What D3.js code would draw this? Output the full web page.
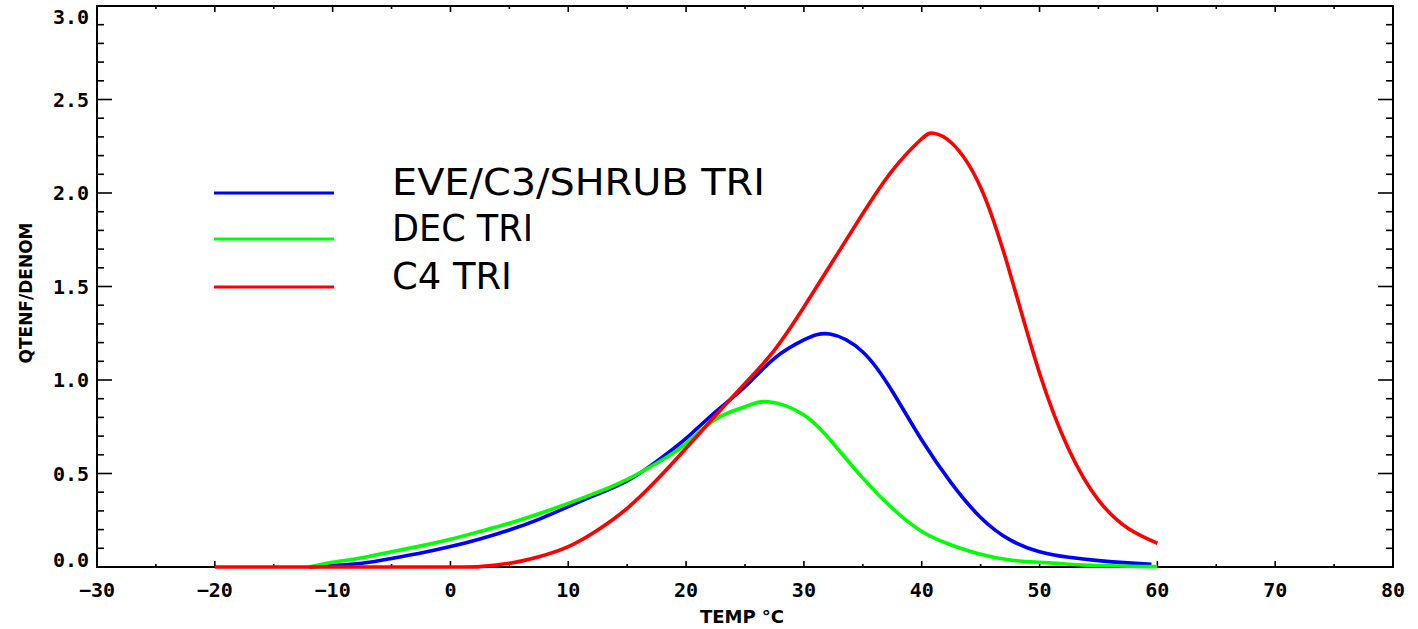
<!DOCTYPE html>
<html>
<head>
<meta charset="utf-8">
<script src="https://cdn.jsdelivr.net/npm/d3@7/dist/d3.min.js"></script>
<style>
  html, body { margin: 0; padding: 0; background: #fff; }
  svg { display: block; }
  .tick-label { font-family: "DejaVu Sans Mono", monospace; font-weight: bold; font-size: 20px; fill: #000; }
  .axis-title { font-family: "DejaVu Sans", sans-serif; font-weight: bold; fill: #000; }
  .legend-label { font-family: "DejaVu Sans", sans-serif; font-size: 37px; fill: #000; }
</style>
</head>
<body>
<svg id="chart" width="1418" height="629"></svg>
<script>
// Temperature response curves (QTENF/DENOM) for three tropical plant types
const tempEve = [-12, -10, -7.5, -5, -2.5, 0, 2.5, 5, 7.5, 10, 12.5, 15, 17.5, 20, 22.5, 25, 27.5, 30, 32.2, 35, 37.5, 40, 42.5, 45, 47.5, 50, 52.5, 55, 57.5, 59.5];
const valEve  = [0, 0.008, 0.02, 0.046, 0.075, 0.109, 0.15, 0.198, 0.255, 0.323, 0.39, 0.46, 0.565, 0.688, 0.83, 0.964, 1.116, 1.214, 1.246, 1.15, 0.94, 0.679, 0.45, 0.265, 0.145, 0.082, 0.052, 0.034, 0.022, 0.015];

const tempDec = [-12, -10, -7.5, -5, -2.5, 0, 2.5, 5, 7.5, 10, 12.5, 15, 17.5, 20, 22.5, 25, 27, 30, 32.5, 35, 37.5, 40, 42.5, 45, 47.5, 50, 52.5, 55, 57.5, 60];
const valDec  = [0, 0.025, 0.05, 0.082, 0.113, 0.148, 0.19, 0.234, 0.285, 0.34, 0.4, 0.469, 0.555, 0.66, 0.79, 0.857, 0.884, 0.813, 0.66, 0.475, 0.314, 0.19, 0.118, 0.068, 0.037, 0.025, 0.015, 0.008, 0.004, 0.002];

const tempC4 = [-20, -10, 0, 2.5, 5, 7.5, 10, 12.5, 15, 17.5, 20, 22.5, 25, 27.5, 30, 32.5, 35, 37.5, 40, 41, 42.5, 45, 47.5, 50, 52.5, 55, 57.5, 60];
const valC4  = [0, 0, 0, 0.002, 0.02, 0.055, 0.109, 0.198, 0.314, 0.465, 0.635, 0.81, 0.982, 1.16, 1.39, 1.64, 1.89, 2.12, 2.29, 2.32, 2.27, 2.03, 1.57, 1.036, 0.626, 0.358, 0.207, 0.127];

const seriesNames  = ["EVE/C3/SHRUB TRI", "DEC TRI", "C4 TRI"];
const seriesColors = ["#0000ff", "#00ff00", "#ff0000"];

const xTicks = [-30, -20, -10, 0, 10, 20, 30, 40, 50, 60, 70, 80];
const yTicks = [0.0, 0.5, 1.0, 1.5, 2.0, 2.5, 3.0];
const xTitle = "TEMP °C";
const yTitle = "QTENF/DENOM";

const svg = d3.select("#chart");
const plotL = 97, plotR = 1393, plotT = 6, plotB = 567;

const x = d3.scaleLinear().domain([-30, 80]).range([plotL, plotR]);
const y = d3.scaleLinear().domain([0, 3]).range([plotB, plotT]);

const series = [
  { name: seriesNames[0], color: seriesColors[0], t: tempEve, v: valEve },
  { name: seriesNames[1], color: seriesColors[1], t: tempDec, v: valDec },
  { name: seriesNames[2], color: seriesColors[2], t: tempC4,  v: valC4 }
];

// Frame
svg.append("rect")
  .attr("x", plotL).attr("y", plotT)
  .attr("width", plotR - plotL).attr("height", plotB - plotT)
  .attr("fill", "none").attr("stroke", "#000").attr("stroke-width", 2);

// Ticks: x minor every 5, y minor every 0.1
const ticksG = svg.append("g").attr("stroke", "#000").attr("stroke-width", 1.6);
d3.range(-30, 80.01, 5).forEach(t => {
  const major = Math.abs(t % 10) < 1e-9;
  const len = major ? 6 : 3;
  ticksG.append("line").attr("x1", x(t)).attr("x2", x(t)).attr("y1", plotB).attr("y2", plotB - len);
  ticksG.append("line").attr("x1", x(t)).attr("x2", x(t)).attr("y1", plotT).attr("y2", plotT + len);
});
d3.range(0, 30.01, 1).forEach(k => {
  const v = k / 10;
  const major = k % 5 === 0;
  const len = major ? 15 : 7;
  ticksG.append("line").attr("x1", plotL).attr("x2", plotL + len).attr("y1", y(v)).attr("y2", y(v));
  ticksG.append("line").attr("x1", plotR).attr("x2", plotR - len).attr("y1", y(v)).attr("y2", y(v));
});

// Curves, clipped just below the zero line so spline wiggle stays on the axis
svg.append("clipPath").attr("id", "plot-clip")
  .append("rect").attr("x", plotL).attr("y", plotT - 4)
  .attr("width", plotR - plotL).attr("height", plotB - plotT + 6);

const line = d3.line()
  .x(d => x(d[0]))
  .y(d => y(d[1]))
  .curve(d3.curveNatural);
const curvesG = svg.append("g").attr("clip-path", "url(#plot-clip)");
series.forEach(s => {
  curvesG.append("path")
    .datum(s.t.map((t, i) => [t, s.v[i]]))
    .attr("d", line)
    .attr("fill", "none")
    .attr("stroke", s.color)
    .attr("stroke-width", 3.6)
    .attr("stroke-linejoin", "round");
});

// Tick labels
svg.selectAll(".xl").data(xTicks).enter().append("text")
  .attr("class", "tick-label")
  .attr("x", d => x(d)).attr("y", 597)
  .attr("text-anchor", "middle")
  .text(d => d < 0 ? "\u2212" + Math.abs(d) : String(d));

svg.selectAll(".yl").data(yTicks).enter().append("text")
  .attr("class", "tick-label")
  .attr("x", plotL - 8)
  .attr("y", (d, i) => {
    let c = y(d);
    if (i === 0) c -= 7;
    if (i === yTicks.length - 1) c += 11;
    return c + 7;
  })
  .attr("text-anchor", "end")
  .text(d => d.toFixed(1));

// Axis titles
svg.append("text").attr("class", "axis-title")
  .attr("x", 742).attr("y", 623)
  .attr("text-anchor", "middle")
  .attr("font-size", 18)
  .text(xTitle);

svg.append("text").attr("class", "axis-title")
  .attr("transform", "translate(32,293) rotate(-90)")
  .attr("text-anchor", "middle")
  .attr("font-size", 17)
  .text(yTitle);

// Legend
const legendRows = [193, 239, 287];
const legendWidths = [373, 141, 120];
series.forEach((s, i) => {
  svg.append("line")
    .attr("x1", 214).attr("x2", 334)
    .attr("y1", legendRows[i]).attr("y2", legendRows[i])
    .attr("stroke", s.color).attr("stroke-width", 3);
  svg.append("text").attr("class", "legend-label")
    .attr("x", 392).attr("y", legendRows[i] + 2)
    .attr("textLength", legendWidths[i])
    .attr("lengthAdjust", "spacingAndGlyphs")
    .text(s.name);
});
</script>
</body>
</html>
